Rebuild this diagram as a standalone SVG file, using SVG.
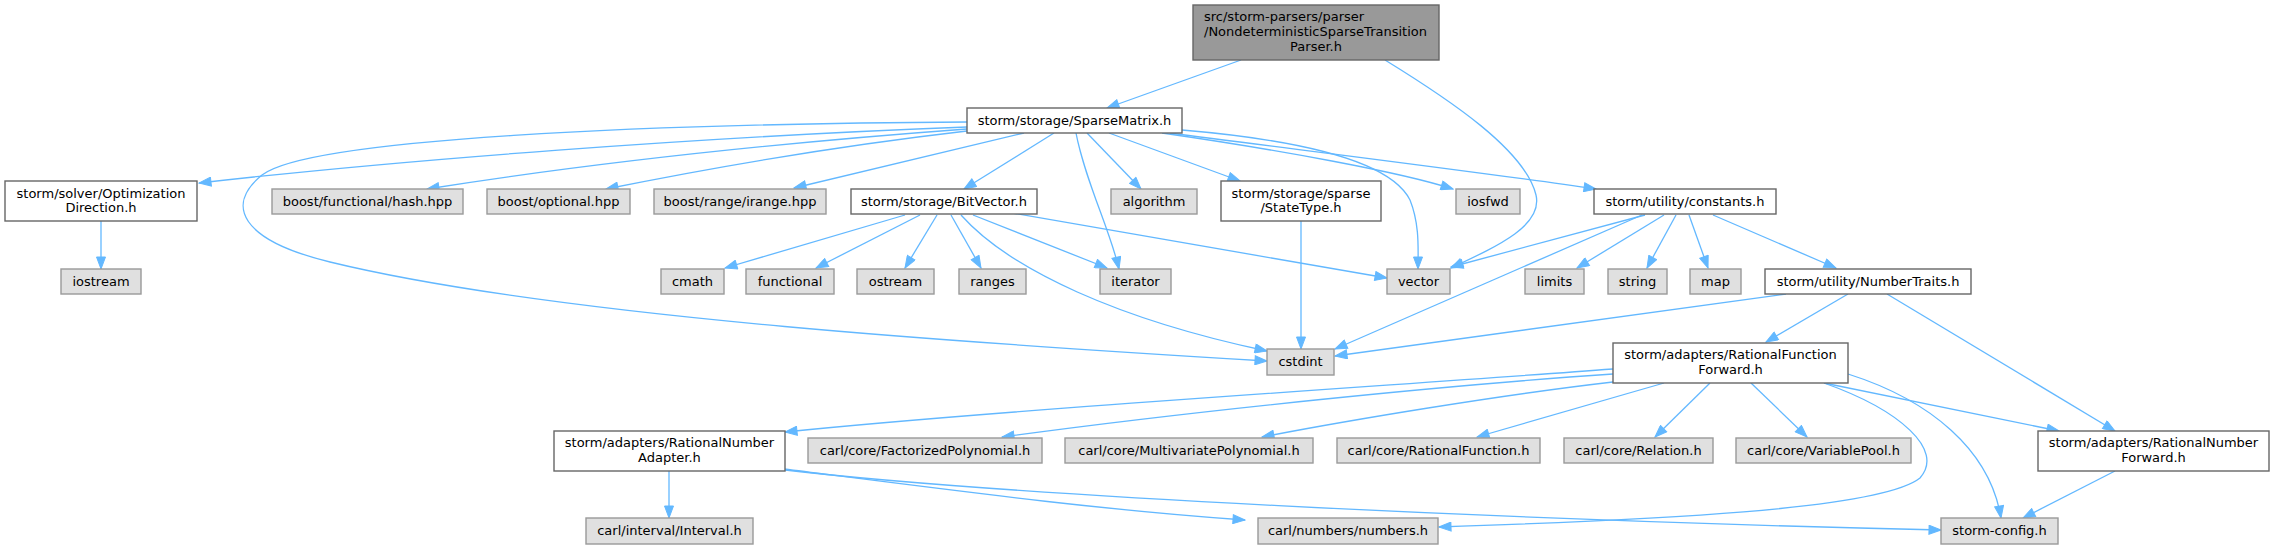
<svg xmlns="http://www.w3.org/2000/svg" width="2274" height="549" viewBox="0 0 2274 549">
<style>
.n rect{stroke-width:1.4}
.w rect{fill:#ffffff;stroke:#666666}
.g rect{fill:#e0e0e0;stroke:#999999}
.s rect{fill:#999999;stroke:#666666}
text{font-family:"DejaVu Sans","Liberation Sans",sans-serif;font-size:13px;fill:#000000;text-anchor:middle}
.e path{fill:none;stroke:#63b8ff;stroke-width:1.3;marker-end:url(#a)}
</style>
<defs>
<marker id="a" markerUnits="userSpaceOnUse" markerWidth="14" markerHeight="10" viewBox="-13 -5 14 10" refX="0" refY="0" orient="auto">
<path d="M0,0 L-12,-4.5 L-12,4.5 Z" fill="#63b8ff" stroke="#63b8ff" stroke-width="1"/>
</marker>
</defs>
<rect width="2274" height="549" fill="#ffffff"/>
<g id="edges" class="e">
<path d="M1241,60 L1107,108"/>
<path d="M1385,60 C1450,100 1525,150 1536,195 C1543,225 1500,245 1451,268"/>
<path d="M967,122 C650,124 310,138 262,175 C225,205 240,240 330,262 C560,318 1000,345 1267,361"/>
<path d="M967,127 C700,137 400,160 199,183"/>
<path d="M101,221 L101,269"/>
<path d="M967,129 C750,145 560,168 427,189"/>
<path d="M967,131 C820,148 700,170 606,189"/>
<path d="M1024,133 L794,188"/>
<path d="M1054,133 L964,189"/>
<path d="M1076,133 C1085,180 1110,230 1119,269"/>
<path d="M1087,133 L1141,189"/>
<path d="M1109,133 L1240,181"/>
<path d="M1182,130 C1300,140 1390,160 1410,200 C1420,225 1418,250 1418,269"/>
<path d="M1162,133 C1280,150 1400,172 1453,189"/>
<path d="M1170,133 C1300,150 1480,172 1596,189"/>
<path d="M905,215 L725,268"/>
<path d="M920,215 L816,268"/>
<path d="M937,215 L905,268"/>
<path d="M951,215 L981,268"/>
<path d="M961,215 C1010,270 1120,320 1267,351"/>
<path d="M973,215 L1107,268"/>
<path d="M1012,213 L1387,278"/>
<path d="M1301,221 L1301,349"/>
<path d="M1645,215 L1451,267"/>
<path d="M1642,215 L1335,349"/>
<path d="M1664,215 L1577,268"/>
<path d="M1676,215 L1647,268"/>
<path d="M1689,215 L1708,268"/>
<path d="M1713,215 L1836,268"/>
<path d="M1786,294 L1335,356"/>
<path d="M1848,294 L1766,342"/>
<path d="M1887,294 L2115,431"/>
<path d="M1613,369 C1400,385 1000,410 785,432"/>
<path d="M1613,374 C1450,385 1200,410 1002,437"/>
<path d="M1613,382 C1500,395 1350,420 1262,437"/>
<path d="M1664,383 L1477,437"/>
<path d="M1710,383 L1655,437"/>
<path d="M1751,383 L1807,437"/>
<path d="M1824,383 C1900,410 1945,450 1920,478 C1880,510 1650,520 1439,527"/>
<path d="M1848,374 C1930,400 1990,450 2001,518"/>
<path d="M1824,383 L2059,431"/>
<path d="M2115,471 L2023,518"/>
<path d="M669,471 L669,518"/>
<path d="M784,469 C950,490 1100,510 1245,520"/>
<path d="M785,470 C1000,495 1500,520 1941,530"/>
</g>
<g id="n_src" class="n s"><rect x="1193" y="5" width="246" height="55"/>
<text x="1204" y="21" style="text-anchor:start">src/storm-parsers/parser</text>
<text x="1204" y="36" style="text-anchor:start">/NondeterministicSparseTransition</text>
<text x="1316" y="51">Parser.h</text></g>
<g id="n_sparsematrix" class="n w"><rect x="967" y="108" width="215" height="25"/><text x="1074.5" y="125">storm/storage/SparseMatrix.h</text></g>
<g id="n_optdir" class="n w"><rect x="5" y="181" width="192" height="40"/><text x="101" y="198">storm/solver/Optimization</text><text x="101" y="212">Direction.h</text></g>
<g id="n_iostream" class="n g"><rect x="61" y="269" width="80" height="25"/><text x="101" y="286">iostream</text></g>
<g id="n_hash" class="n g"><rect x="272" y="189" width="191" height="25"/><text x="367.5" y="206">boost/functional/hash.hpp</text></g>
<g id="n_optional" class="n g"><rect x="487" y="189" width="143" height="25"/><text x="558.5" y="206">boost/optional.hpp</text></g>
<g id="n_irange" class="n g"><rect x="654" y="189" width="172" height="25"/><text x="740" y="206">boost/range/irange.hpp</text></g>
<g id="n_bitvector" class="n w"><rect x="851" y="189" width="186" height="25"/><text x="944" y="206">storm/storage/BitVector.h</text></g>
<g id="n_algorithm" class="n g"><rect x="1111" y="189" width="86" height="25"/><text x="1154" y="206">algorithm</text></g>
<g id="n_statetype" class="n w"><rect x="1221" y="181" width="160" height="40"/><text x="1301" y="198">storm/storage/sparse</text><text x="1301" y="212">/StateType.h</text></g>
<g id="n_iosfwd" class="n g"><rect x="1456" y="189" width="64" height="25"/><text x="1488" y="206">iosfwd</text></g>
<g id="n_constants" class="n w"><rect x="1594" y="189" width="182" height="25"/><text x="1685" y="206">storm/utility/constants.h</text></g>
<g id="n_cmath" class="n g"><rect x="661" y="269" width="63" height="25"/><text x="692.5" y="286">cmath</text></g>
<g id="n_functional" class="n g"><rect x="746" y="269" width="88" height="25"/><text x="790" y="286">functional</text></g>
<g id="n_ostream" class="n g"><rect x="857" y="269" width="77" height="25"/><text x="895.5" y="286">ostream</text></g>
<g id="n_ranges" class="n g"><rect x="959" y="269" width="67" height="25"/><text x="992.5" y="286">ranges</text></g>
<g id="n_iterator" class="n g"><rect x="1100" y="269" width="71" height="25"/><text x="1135.5" y="286">iterator</text></g>
<g id="n_vector" class="n g"><rect x="1387" y="269" width="63" height="25"/><text x="1418.5" y="286">vector</text></g>
<g id="n_limits" class="n g"><rect x="1525" y="269" width="59" height="25"/><text x="1554.5" y="286">limits</text></g>
<g id="n_string" class="n g"><rect x="1608" y="269" width="59" height="25"/><text x="1637.5" y="286">string</text></g>
<g id="n_map" class="n g"><rect x="1690" y="269" width="51" height="25"/><text x="1715.5" y="286">map</text></g>
<g id="n_numbertraits" class="n w"><rect x="1765" y="269" width="206" height="25"/><text x="1868" y="286">storm/utility/NumberTraits.h</text></g>
<g id="n_cstdint" class="n g"><rect x="1267" y="349" width="67" height="26"/><text x="1300.5" y="366">cstdint</text></g>
<g id="n_rff" class="n w"><rect x="1613" y="343" width="235" height="40"/><text x="1730.5" y="359">storm/adapters/RationalFunction</text><text x="1730.5" y="374">Forward.h</text></g>
<g id="n_rna" class="n w"><rect x="554" y="431" width="231" height="40"/><text x="669.5" y="447">storm/adapters/RationalNumber</text><text x="669.5" y="462">Adapter.h</text></g>
<g id="n_factpoly" class="n g"><rect x="808" y="438" width="234" height="25"/><text x="925" y="455">carl/core/FactorizedPolynomial.h</text></g>
<g id="n_multipoly" class="n g"><rect x="1065" y="438" width="248" height="25"/><text x="1189" y="455">carl/core/MultivariatePolynomial.h</text></g>
<g id="n_ratfunc" class="n g"><rect x="1337" y="438" width="203" height="25"/><text x="1438.5" y="455">carl/core/RationalFunction.h</text></g>
<g id="n_relation" class="n g"><rect x="1564" y="438" width="149" height="25"/><text x="1638.5" y="455">carl/core/Relation.h</text></g>
<g id="n_varpool" class="n g"><rect x="1736" y="438" width="175" height="25"/><text x="1823.5" y="455">carl/core/VariablePool.h</text></g>
<g id="n_rnf" class="n w"><rect x="2038" y="431" width="231" height="40"/><text x="2153.5" y="447">storm/adapters/RationalNumber</text><text x="2153.5" y="462">Forward.h</text></g>
<g id="n_interval" class="n g"><rect x="586" y="518" width="167" height="26"/><text x="669.5" y="535">carl/interval/Interval.h</text></g>
<g id="n_numbers" class="n g"><rect x="1258" y="518" width="180" height="26"/><text x="1348" y="535">carl/numbers/numbers.h</text></g>
<g id="n_config" class="n g"><rect x="1941" y="518" width="117" height="26"/><text x="1999.5" y="535">storm-config.h</text></g>
</svg>
